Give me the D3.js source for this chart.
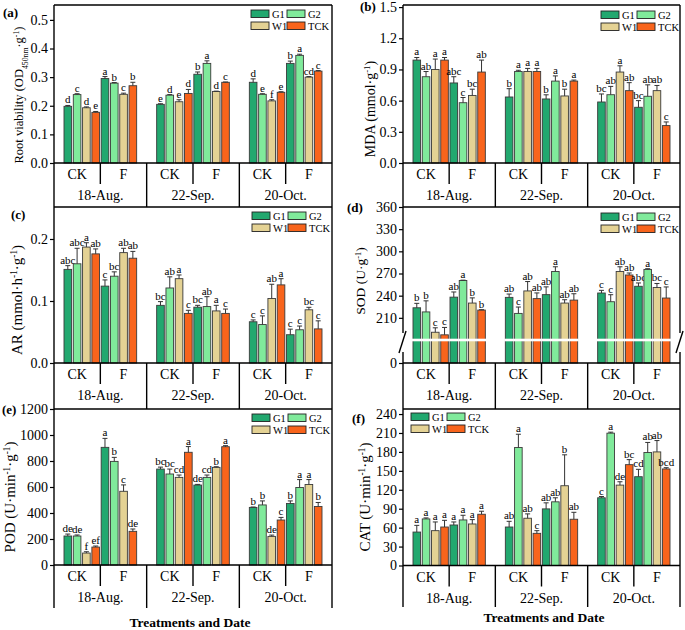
<!DOCTYPE html>
<html><head><meta charset="utf-8">
<script src="https://cdn.jsdelivr.net/npm/d3@7"></script>
<style>
body{margin:0;background:#fff}
svg{display:block}
text{font-family:"Liberation Serif","Times New Roman",serif;fill:#000}
</style>
</head><body>
<svg id="chart" width="685" height="630"></svg>
<script>
// ---------- categories ----------
const dates = ["18-Aug.", "22-Sep.", "20-Oct."];
const treatments = ["CK", "F"];
const series = ["G1", "G2", "W1", "TCK"];
const seriesColors = ["#22a86f", "#80ea9b", "#e4d294", "#f8641c"];
// values ordered: date -> treatment (CK, F) -> series (G1, G2, W1, TCK)

// (a) Root viability
const rvMean = [0.198,0.239,0.193,0.177, 0.295,0.279,0.240,0.270, 0.205,0.237,0.214,0.243, 0.310,0.348,0.250,0.282, 0.282,0.240,0.217,0.247, 0.348,0.376,0.300,0.321];
const rvErr  = [0.003,0.003,0.003,0.003, 0.007,0.002,0.004,0.012, 0.002,0.002,0.007,0.014, 0.008,0.009,0.001,0.001, 0.012,0.002,0.004,0.002, 0.008,0.004,0.002,0.002];
const rvLet  = ["d","c","d","e","a","b","c","b","e","d","e","d","b","a","d","c","d","e","f","e","b","a","cd","c"];
const rvTicks = [0, 0.1, 0.2, 0.3, 0.4, 0.5];

// (b) MDA
const mdaMean = [0.99,0.83,0.90,0.99, 0.77,0.58,0.65,0.875, 0.635,0.88,0.88,0.88, 0.616,0.788,0.645,0.788, 0.587,0.657,0.875,0.696, 0.536,0.642,0.696,0.36];
const mdaErr  = [0.025,0.05,0.10,0.025, 0.06,0.05,0.06,0.115, 0.08,0.012,0.03,0.03, 0.04,0.05,0.065,0.01, 0.077,0.08,0.06,0.077, 0.064,0.11,0.05,0.035];
const mdaLet  = ["a","ab","a","a","abc","c","bc","ab","b","a","a","a","b","a","b","a","bc","ab","a","ab","bc","ab","ab","c"];
const mdaTicks = [0, 0.3, 0.6, 0.9, 1.2, 1.5];

// (c) AR
const arMean = [0.151,0.160,0.187,0.176, 0.124,0.140,0.178,0.169, 0.093,0.121,0.136,0.080, 0.090,0.091,0.084,0.080, 0.0665,0.062,0.104,0.126, 0.0456,0.0536,0.0858,0.055];
const arErr  = [0.006,0.025,0.007,0.008, 0.010,0.007,0.007,0.011, 0.006,0.018,0.006,0.005, 0.003,0.016,0.009,0.007, 0.003,0.014,0.023,0.010, 0.009,0.006,0.004,0.013];
const arLet  = ["abc","abc","a","ab","c","bc","ab","ab","bc","ab","a","c","bc","ab","a","c","c","c","ab","a","c","c","bc","c"];
const arTicks = [0, 0.1, 0.2];

// (d) SOD
const sodMean = [223.6,218,190.5,187, 238,260.5,230,220.5, 237.7,216,246.4,236, 241.4,272.7,230,234, 243.6,231.8,272.7,268, 252.7,275.5,251,236.8];
const sodErr  = [6,15,6,10, 7,0.5,7,0.5, 4.5,8.6,12.7,7.7, 10.5,6.4,4.5,8.6, 3.6,9.5,6.4,2.7, 4.5,1,5.5,15];
const sodLet  = ["b","b","c","c","ab","a","b","b","ab","c","ab","ab","ab","a","ab","ab","c","c","ab","ab","abc","a","bc","c"];
const sodTicks = [0, 210, 240, 270, 300, 330, 360];

// (e) POD
const podMean = [223,223,92,138, 905,797,567,259, 738,700,674,867, 615,674,751,910, 443,462,220,346, 473,596,619,450];
const podErr  = [15,8,10,8, 69,31,49,18, 15,38,18,44, 5,18,5,8, 3,31,10,20, 20,61,38,31];
const podLet  = ["de","de","f","ef","a","b","c","de","bc","bc","cd","a","de","cd","b","a","b","b","de","c","b","a","a","b"];
const podTicks = [0, 200, 400, 600, 800, 1000, 1200];

// (f) CAT
const catMean = [53,73.8,55.2,61, 64.2,72.2,65.8,81.2, 61,187,74.9,51, 89.7,100.9,126.4,73.3, 107.3,209.7,127.4,159.8, 140.7,179,180,153];
const catErr  = [10.6,1.6,13.8,10.6, 4.8,7.4,6.9,4.8, 9,21,6.9,4.2, 9.6,6.4,49,11, 2,1.6,5.3,8, 11.7,16,18,2];
const catLet  = ["a","a","a","a","a","a","a","a","ab","a","ab","c","ab","ab","b","ab","c","a","de","bc","cd","ab","ab","bcd"];
const catTicks = [0, 30, 60, 90, 120, 150, 180, 210, 240];

const xTitle = "Treatments and Date";

// ---------- layout ----------
const svg = d3.select("#chart");
const f1 = d3.format(".1f"), f0 = d3.format("d");

const panels = [
  {tag:"(a)", mean:rvMean, err:rvErr, lets:rvLet, ticks:rvTicks, fmt:f1, x0:54, x1:332, top:5, base:163, bottom:207, domain:[0,0.552],
   title:[["Root viability (OD",""],["450nm","sub"],["·g",""],["-1","sup"],[")",""]], tx:23, ty:95, ts:12.5,
   tagPos:[3,17], leg:[251,10]},
  {tag:"(b)", mean:mdaMean, err:mdaErr, lets:mdaLet, ticks:mdaTicks, fmt:f1, x0:403, x1:680, top:5, base:163, bottom:207, domain:[0,1.52],
   title:[["MDA (mmol·g",""],["-1","sup"],[")",""]], tx:375, ty:109, ts:14,
   tagPos:[360,11], leg:[601,11]},
  {tag:"(c)", mean:arMean, err:arErr, lets:arLet, ticks:arTicks, fmt:f1, x0:54, x1:332, top:207, base:363, bottom:409, domain:[0,0.2516],
   title:[["AR (mmol·h",""],["-1","sup"],["·g",""],["-1","sup"],[")",""]], tx:22, ty:300, ts:15,
   tagPos:[11,219], leg:[252,212]},
  {tag:"(d)", mean:sodMean, err:sodErr, lets:sodLet, ticks:sodTicks, fmt:f0, x0:403, x1:680, top:207, base:363, bottom:409, domain:null, broken:true,
   title:[["SOD (U·g",""],["-1","sup"],[")",""]], tx:365, ty:281, ts:13.5,
   tagPos:[347,212], leg:[601,213]},
  {tag:"(e)", mean:podMean, err:podErr, lets:podLet, ticks:podTicks, fmt:f0, x0:54, x1:332, top:409, base:565, bottom:608, domain:[0,1200],
   title:[["POD (U·min",""],["-1","sup"],["·g",""],["-1","sup"],[")",""]], tx:15, ty:497, ts:15,
   tagPos:[2,414], leg:[252,414], xt:[190,627]},
  {tag:"(f)", mean:catMean, err:catErr, lets:catLet, ticks:catTicks, fmt:f0, x0:403, x1:680, top:409, base:565.5, bottom:607, domain:[0,248],
   title:[["CAT (U·min",""],["-1","sup"],["·g",""],["-1","sup"],[")",""]], tx:370, ty:497, ts:15,
   tagPos:[352,423], leg:[411,413], xt:[544,622]}
];

const lineW = 1.4;

panels.forEach(p => {
  const g = svg.append("g");
  let y;
  if (p.broken) {
    y = d3.scaleLinear().domain([0, 180, 360]).range([p.base, p.base - 23, p.top]);
  } else {
    y = d3.scaleLinear().domain(p.domain).range([p.base, p.top]);
  }
  const xDate = d3.scaleBand().domain(dates).range([p.x0, p.x1]);
  const keys = [];
  treatments.forEach(t => series.forEach(s => keys.push(t + "|" + s)));

  // bars
  dates.forEach((d, di) => {
    const gx0 = xDate(d), gx1 = gx0 + xDate.bandwidth();
    const xb = d3.scaleBand().domain(keys).range([gx0 + 10, gx1 - 10]).paddingInner(0.18);
    keys.forEach((k, ki) => {
      const idx = di * 8 + ki;
      const si = ki % 4;
      const v = p.mean[idx], e = p.err[idx];
      const bx = xb(k), bw = xb.bandwidth();
      g.append("rect")
        .attr("x", bx).attr("y", y(v))
        .attr("width", bw).attr("height", y(0) - y(v))
        .attr("fill", seriesColors[si]).attr("stroke", "#3a3a3a").attr("stroke-width", 0.9);
      const cx = bx + bw / 2;
      g.append("line").attr("x1", cx).attr("x2", cx).attr("y1", y(v)).attr("y2", y(v + e))
        .attr("stroke", "#333").attr("stroke-width", 1);
      g.append("line").attr("x1", cx - 2.5).attr("x2", cx + 2.5).attr("y1", y(v + e)).attr("y2", y(v + e))
        .attr("stroke", "#333").attr("stroke-width", 1);
      g.append("text").attr("x", cx).attr("y", y(v + e) - 2)
        .attr("text-anchor", "middle").attr("font-size", 11).text(p.lets[idx]);
    });
    if (p.broken) {
      const first = xb(keys[0]), last = xb(keys[7]) + xb.bandwidth();
      g.append("rect").attr("x", first - 1).attr("y", y(180) - 1.3)
        .attr("width", last - first + 2).attr("height", 2.6).attr("fill", "#fff");
    }
  });

  // y axis ticks
  const ax = g.append("g").attr("transform", `translate(${p.x0},0)`)
    .call(d3.axisLeft(y).tickValues(p.ticks).tickFormat(p.fmt).tickSize(4).tickSizeOuter(0));
  ax.select(".domain").remove();
  ax.selectAll(".tick line").attr("stroke", "#000").attr("stroke-width", 1.2);
  ax.selectAll(".tick text").attr("font-size", 14).attr("font-family", "Liberation Serif, Times New Roman, serif").attr("x", -6);

  // frame
  const fr = g.append("g").attr("stroke", "#000").attr("stroke-width", lineW).attr("fill", "none");
  fr.append("line").attr("x1", p.x0).attr("x2", p.x1).attr("y1", p.top).attr("y2", p.top);
  fr.append("line").attr("x1", p.x0).attr("x2", p.x1).attr("y1", p.base).attr("y2", p.base);
  if (p.broken) {
    const gy1 = y(180) - 7, gy2 = y(180) + 12;
    [p.x0, p.x1].forEach(xx => {
      fr.append("line").attr("x1", xx).attr("x2", xx).attr("y1", p.top).attr("y2", gy1);
      fr.append("line").attr("x1", xx).attr("x2", xx).attr("y1", gy2).attr("y2", p.bottom);
      fr.append("line").attr("x1", xx - 4).attr("x2", xx + 3).attr("y1", gy2 + 1).attr("y2", gy1 - 2);
    });
  } else {
    [p.x0, p.x1].forEach(xx => {
      fr.append("line").attr("x1", xx).attr("x2", xx).attr("y1", p.top).attr("y2", p.bottom);
    });
  }
  // category box
  dates.forEach((d, di) => {
    const gx0 = xDate(d), w = xDate.bandwidth();
    if (di > 0) fr.append("line").attr("x1", gx0).attr("x2", gx0).attr("y1", p.base).attr("y2", p.bottom);
    fr.append("line").attr("x1", gx0 + w / 2).attr("x2", gx0 + w / 2).attr("y1", p.base).attr("y2", p.base + 21);
    treatments.forEach((t, ti) => {
      g.append("text").attr("x", gx0 + w / 4 + ti * w / 2).attr("y", p.base + 16)
        .attr("text-anchor", "middle").attr("font-size", 14).text(t);
    });
    g.append("text").attr("x", gx0 + w / 2).attr("y", p.base + 37)
      .attr("text-anchor", "middle").attr("font-size", 14).text(d);
  });

  // y title
  const tt = g.append("text").attr("transform", `translate(${p.tx},${p.ty}) rotate(-90)`)
    .attr("text-anchor", "middle").attr("font-size", p.ts);
  p.title.forEach(([s, kind]) => {
    const sp = tt.append("tspan").text(s);
    if (kind === "sup") sp.attr("baseline-shift", "super").attr("font-size", p.ts * 0.62);
    if (kind === "sub") sp.attr("baseline-shift", "sub").attr("font-size", p.ts * 0.62);
  });

  // panel tag
  g.append("text").attr("x", p.tagPos[0]).attr("y", p.tagPos[1])
    .attr("font-size", 13).attr("font-weight", "bold").text(p.tag);

  // legend
  series.forEach((s, si) => {
    const lx = p.leg[0] + (si % 2) * 36, ly = p.leg[1] + Math.floor(si / 2) * 12;
    g.append("rect").attr("x", lx).attr("y", ly).attr("width", 18).attr("height", 7.5)
      .attr("fill", seriesColors[si]).attr("stroke", "#222").attr("stroke-width", 0.9);
    g.append("text").attr("x", lx + 21).attr("y", ly + 7.5).attr("font-size", 10.5).text(s);
  });

  // x title
  if (p.xt) {
    g.append("text").attr("x", p.xt[0]).attr("y", p.xt[1]).attr("text-anchor", "middle")
      .attr("font-size", 13.5).attr("font-weight", "bold").text(xTitle);
  }
});
</script>
</body></html>
